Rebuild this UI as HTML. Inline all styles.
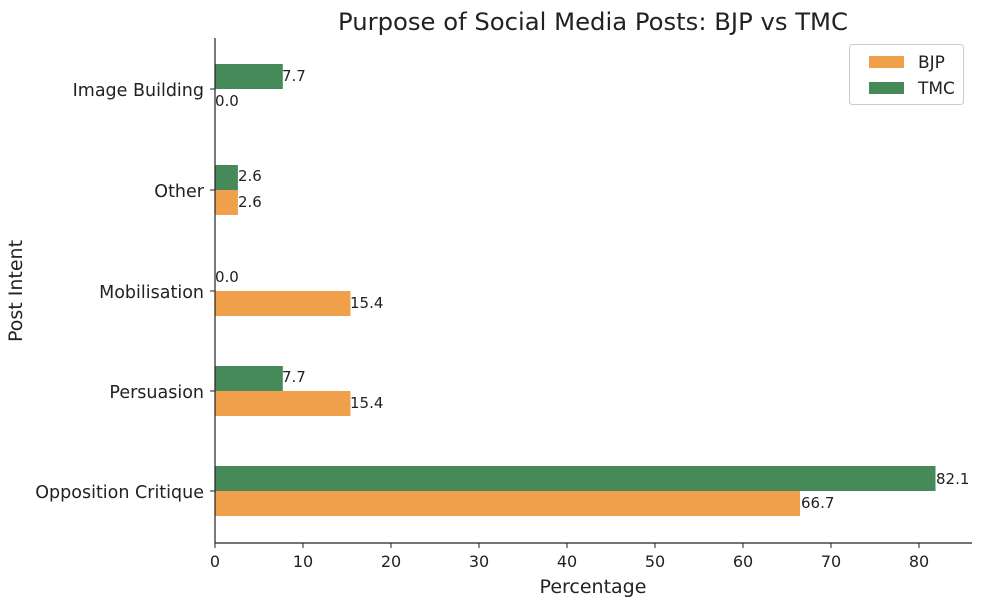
<!DOCTYPE html>
<html><head><style>body{margin:0;background:#fff}svg{display:block}text{font-family:"DejaVu Sans",sans-serif;fill:#222}</style></head>
<body>
<svg width="981" height="607" viewBox="0 0 981 607">
<text x="593" y="30" font-size="24.3" text-anchor="middle">Purpose of Social Media Posts: BJP vs TMC</text>
<g>
<rect x="215" y="64" width="67.8" height="25" fill="#468A5A"/>
<rect x="215" y="165" width="22.9" height="25" fill="#468A5A"/>
<rect x="215" y="190" width="22.9" height="25" fill="#F0A04B"/>
<rect x="215" y="291" width="135.5" height="25" fill="#F0A04B"/>
<rect x="215" y="366" width="67.8" height="25" fill="#468A5A"/>
<rect x="215" y="391" width="135.5" height="25" fill="#F0A04B"/>
<rect x="215" y="466" width="720.5" height="25" fill="#468A5A"/>
<rect x="215" y="491" width="585" height="25" fill="#F0A04B"/>
</g>
<g font-size="15">
<text x="282" y="81">7.7</text>
<text x="215" y="106">0.0</text>
<text x="238" y="181">2.6</text>
<text x="238" y="207">2.6</text>
<text x="215" y="282">0.0</text>
<text x="350" y="308">15.4</text>
<text x="282" y="382">7.7</text>
<text x="350" y="408">15.4</text>
<text x="936" y="484">82.1</text>
<text x="801" y="508">66.7</text>
</g>
<line x1="215" y1="38" x2="215" y2="543" stroke="#222" stroke-width="1.2"/>
<line x1="215" y1="543" x2="972" y2="543" stroke="#222" stroke-width="1.2"/>
<g stroke="#222">
<line x1="210" y1="89" x2="215" y2="89"/><line x1="210" y1="190" x2="215" y2="190"/><line x1="210" y1="291" x2="215" y2="291"/><line x1="210" y1="391" x2="215" y2="391"/><line x1="210" y1="491" x2="215" y2="491"/>
<line x1="215" y1="543" x2="215" y2="548"/><line x1="303" y1="543" x2="303" y2="548"/><line x1="391" y1="543" x2="391" y2="548"/><line x1="479" y1="543" x2="479" y2="548"/><line x1="567" y1="543" x2="567" y2="548"/><line x1="655" y1="543" x2="655" y2="548"/><line x1="743" y1="543" x2="743" y2="548"/><line x1="831" y1="543" x2="831" y2="548"/><line x1="919" y1="543" x2="919" y2="548"/>
</g>
<g font-size="17.5" text-anchor="end">
<text x="204" y="96">Image Building</text>
<text x="204" y="197">Other</text>
<text x="204" y="298">Mobilisation</text>
<text x="204" y="398">Persuasion</text>
<text x="204" y="498">Opposition Critique</text>
</g>
<g font-size="16" text-anchor="middle">
<text x="215" y="567">0</text><text x="303" y="567">10</text><text x="391" y="567">20</text><text x="479" y="567">30</text><text x="567" y="567">40</text><text x="655" y="567">50</text><text x="743" y="567">60</text><text x="831" y="567">70</text><text x="919" y="567">80</text>
</g>
<text x="593" y="593" font-size="19" text-anchor="middle">Percentage</text>
<text transform="translate(22,291) rotate(-90)" font-size="19" text-anchor="middle">Post Intent</text>
<rect x="849.5" y="44.5" width="114" height="60" rx="3" fill="#fff" stroke="#ccc"/>
<rect x="869" y="56" width="35" height="12" fill="#F0A04B"/>
<rect x="869" y="82" width="35" height="12" fill="#468A5A"/>
<text x="918" y="68" font-size="17">BJP</text>
<text x="918" y="94" font-size="17">TMC</text>
</svg>
</body></html>
